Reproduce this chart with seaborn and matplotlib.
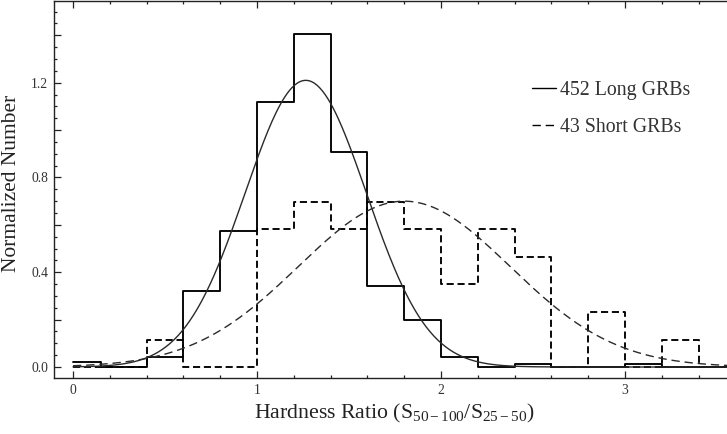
import numpy as np
import pandas as pd
import matplotlib
matplotlib.use("Agg")
import matplotlib.pyplot as plt
from matplotlib.ticker import MultipleLocator, FuncFormatter
import seaborn as sns

# ---- data ----
bin_edges = [0.0, 0.15, 0.4, 0.6, 0.8, 1.0, 1.2, 1.4, 1.6, 1.8, 2.0,
             2.2, 2.4, 2.6, 2.8, 3.0, 3.2, 3.4, 3.6]
long_heights = [0.022, 0.0, 0.044, 0.321, 0.575, 1.117, 1.405, 0.907, 0.343,
                0.199, 0.044, 0.0, 0.011, 0.0, 0.0, 0.011, 0.0, 0.0]
short_heights = [0.0, 0.0, 0.116, 0.0, 0.0, 0.581, 0.698, 0.581, 0.698,
                 0.581, 0.349, 0.581, 0.465, 0.0, 0.233, 0.0, 0.116, 0.0]
# Gaussian fits shown as curves: amplitude, mean, sigma
long_fit = dict(amp=1.21, mu=1.265, sigma=0.33)
short_fit = dict(amp=0.70, mu=1.80, sigma=0.575)
long_label = "452 Long GRBs"
short_label = "43 Short GRBs"
x_ticks = [0, 1, 2, 3]
y_ticks = [0.0, 0.4, 0.8, 1.2]

# ---- style ----
sns.set_style("ticks")
plt.rcParams["font.family"] = ["Liberation Serif", "DejaVu Serif"]
plt.rcParams["mathtext.fontset"] = "custom"
plt.rcParams["mathtext.rm"] = "Liberation Serif"
plt.rcParams["mathtext.it"] = "Liberation Serif:italic"

fig = plt.figure(figsize=(7.27, 4.34), dpi=100)
ax = fig.add_axes([54 / 727, 56 / 434, 680 / 727, 377 / 434])

edges = np.array(bin_edges)
centers = (edges[:-1] + edges[1:]) / 2
hist_df = pd.DataFrame({"x": centers, "long": long_heights, "short": short_heights})

sns.histplot(data=hist_df, x="x", weights="long", bins=list(bin_edges), element="step",
             fill=False, stat="count", color="black", linewidth=1.35, ax=ax)
sns.histplot(data=hist_df, x="x", weights="short", bins=list(bin_edges), element="step",
             fill=False, stat="count", color="black", linewidth=1.35,
             linestyle=(0, (3.8, 2.0)), ax=ax)

xs = np.linspace(0, 3.6, 500)
def gauss(p):
    return p["amp"] * np.exp(-(xs - p["mu"]) ** 2 / (2 * p["sigma"] ** 2))

curve_df = pd.DataFrame({"x": xs, "long": gauss(long_fit), "short": gauss(short_fit)})
sns.lineplot(data=curve_df, x="x", y="long", color="#2a2a2a", linewidth=1.0,
             label=long_label, ax=ax)
sns.lineplot(data=curve_df, x="x", y="short", color="#2a2a2a", linewidth=1.0,
             linestyle=(0, (6.0, 3.5)), label=short_label, ax=ax)

ax.set_xlim(-19 / 184, (734 - 73) / 184)
ax.set_ylim(-11 / 236.9, 366 / 236.9)

ax.xaxis.set_major_locator(plt.FixedLocator(x_ticks))
ax.xaxis.set_minor_locator(MultipleLocator(0.2))
ax.yaxis.set_major_locator(MultipleLocator(0.2))
ax.yaxis.set_minor_locator(MultipleLocator(0.05))
ax.yaxis.set_major_formatter(FuncFormatter(
    lambda v, pos: f"{v:.1f}" if any(abs(v - t) < 1e-6 for t in y_ticks) else ""))
ax.xaxis.set_major_formatter(FuncFormatter(lambda v, pos: f"{v:g}"))

ax.tick_params(which="both", direction="in", top=True, right=False,
               colors="#222222", labelcolor="#333333", width=0.9)
ax.tick_params(which="major", length=5, labelsize=9.8, pad=4)
ax.tick_params(which="minor", length=2.5)
for s in ax.spines.values():
    s.set_linewidth(1.0)
    s.set_color("#222222")

ax.set_xlabel(r"Hardness Ratio (S$_{\mathrm{50-100}}$/S$_{\mathrm{25-50}}$)",
              fontsize=15.7, color="#222222", labelpad=4)
ax.set_ylabel("Normalized Number", fontsize=15.5, color="#222222", labelpad=4)
ax.yaxis.set_label_coords(-0.048, 0.515)

leg = ax.legend(loc="upper left", bbox_to_anchor=((532 - 54) / 680, 0.787),
                frameon=False, fontsize=14.3, handlelength=1.2, handletextpad=0.2,
                labelspacing=0.9, borderpad=0, borderaxespad=0)
for t in leg.get_texts():
    t.set_color("#333333")
for h in leg.get_lines():
    h.set_color("black")

fig.savefig("out.png", dpi=100)
